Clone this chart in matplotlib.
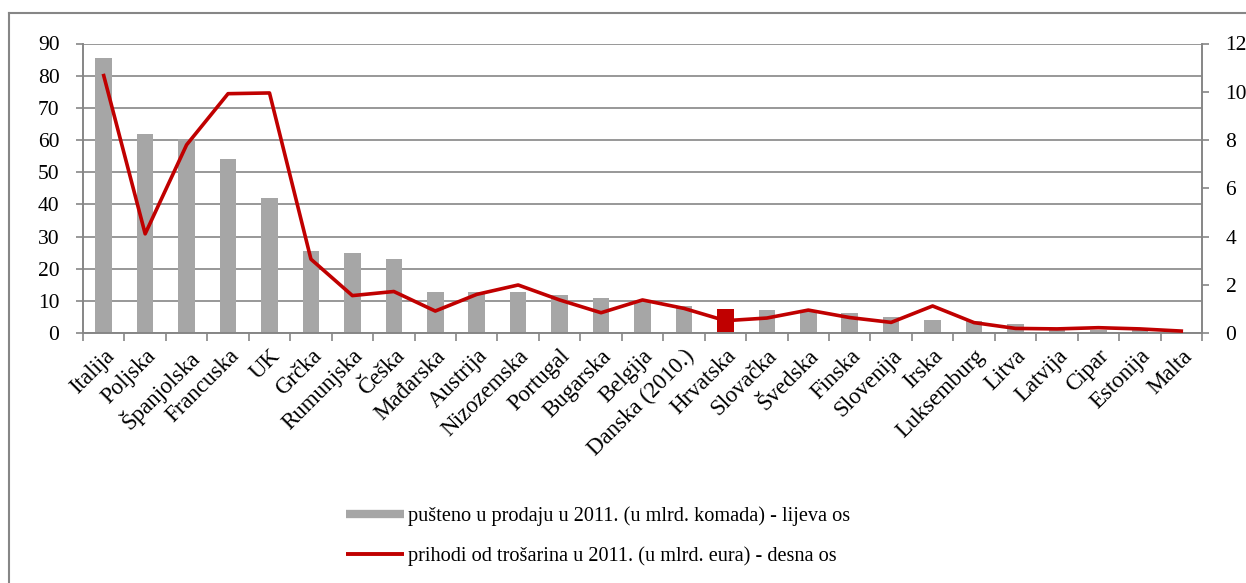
import matplotlib
matplotlib.use("Agg")
import matplotlib.pyplot as plt
from matplotlib.lines import Line2D
import numpy as np

plt.rcParams['font.family'] = ['Liberation Serif', 'DejaVu Serif']

countries = ["Italija", "Poljska", "Španjolska", "Francuska", "UK", "Grčka", "Rumunjska",
             "Češka", "Mađarska", "Austrija", "Nizozemska", "Portugal", "Bugarska", "Belgija",
             "Danska (2010.)", "Hrvatska", "Slovačka", "Švedska", "Finska", "Slovenija", "Irska",
             "Luksemburg", "Litva", "Latvija", "Cipar", "Estonija", "Malta"]
released = [85.5, 62, 60.3, 54, 42, 25.5, 25, 23.1, 12.9, 12.9, 12.9, 11.9, 10.8, 9.8,
            8.4, 7.4, 7.2, 6.8, 6.3, 5.1, 4.0, 3.8, 2.8, 1.5, 1.0, 0.8, 0.3]
revenue = [10.67, 4.11, 7.8, 9.92, 9.95, 3.06, 1.55, 1.72, 0.91, 1.6, 1.99, 1.37, 0.84, 1.37,
           1.02, 0.51, 0.62, 0.95, 0.64, 0.44, 1.12, 0.43, 0.19, 0.17, 0.22, 0.17, 0.08]
left_ticks = [0, 10, 20, 30, 40, 50, 60, 70, 80, 90]
right_ticks = [0, 2, 4, 6, 8, 10, 12]
legend_labels = ["pušteno u prodaju u 2011. (u mlrd. komada) - lijeva os",
                 "prihodi od trošarina u 2011. (u mlrd. eura) - desna os"]
highlight = "Hrvatska"

GREY = "#A6A6A6"
RED = "#C00000"
AXC = "#868686"
W, H = 1246, 583
fig = plt.figure(figsize=(W / 100, H / 100), dpi=100)

# outer frame (left and top visible)
fig.add_artist(Line2D([9 / W, 9 / W], [0, 1 - 13 / H], transform=fig.transFigure, color=AXC, lw=1.5))
fig.add_artist(Line2D([9 / W, 1], [1 - 13 / H, 1 - 13 / H], transform=fig.transFigure, color=AXC, lw=1.5))

ax = fig.add_axes([83 / W, (H - 333) / H, (1202 - 83) / W, (333 - 43.5) / H])
ax2 = ax.twinx()

x = np.arange(len(countries))
colors = [RED if c == highlight else GREY for c in countries]
ax.bar(x, released, width=0.4, color=colors, zorder=2)
ax.set_ylim(0, 90)
ax.set_xlim(-0.5, len(countries) - 0.5)
ax.set_yticks(left_ticks)
ax.set_yticklabels([str(t) for t in left_ticks])
ax.yaxis.grid(True, color=AXC, lw=1.2, zorder=0)
ax.set_axisbelow(True)
ax.set_xticks(x)
ax.set_xticklabels(countries, rotation=45, ha='right', va='top', rotation_mode='anchor')
ax.set_xticks(np.arange(-0.5, len(countries)), minor=True)
ax.tick_params(axis='x', which='major', length=0, pad=9, labelsize=16.5)
ax.tick_params(axis='x', which='minor', length=6, width=1.2, color=AXC)
ax.tick_params(axis='y', length=5, width=1.2, color=AXC, pad=12, labelsize=15.5)

ax2.plot(x, revenue, color=RED, lw=2.6, zorder=3)
ax2.set_ylim(0, 12)
ax2.set_yticks(right_ticks)
ax2.set_yticklabels([str(t) for t in right_ticks])
ax2.tick_params(axis='y', length=5, width=1.2, color=AXC, pad=12, labelsize=15.5)

for a in (ax, ax2):
    a.spines['top'].set_visible(False)
    for s in ('left', 'right', 'bottom'):
        a.spines[s].set_color(AXC)
        a.spines[s].set_linewidth(1.2)

handles = [Line2D([], [], color=GREY, lw=6, solid_capstyle='butt'),
           Line2D([], [], color=RED, lw=2.8, solid_capstyle='butt')]
fig.legend(handles, legend_labels, loc='center', bbox_to_anchor=(598 / W, 1 - 536 / H),
           frameon=False, fontsize=14.6, handlelength=2.9, handletextpad=0.2, labelspacing=1.0)

fig.savefig("out.png", dpi=100)
